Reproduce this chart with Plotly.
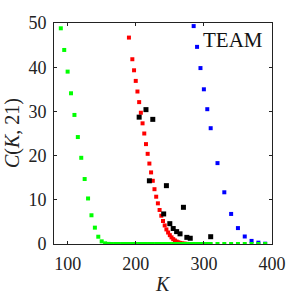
import plotly.graph_objects as go

# ---- data ----
green_k = [90, 95, 100, 105, 110, 115, 120, 125, 130, 135, 140, 145, 150, 155, 160,
           165, 170, 175, 180, 185, 190, 195, 200, 205, 210, 215, 220, 225, 230, 235,
           240, 245, 250, 255, 260, 265, 270, 275, 280, 285, 290, 295, 300, 305, 310,
           320, 330, 340, 350, 360, 370, 380, 390]
green_c = [48.8, 43.9, 39.0, 34.1, 29.2, 24.2, 19.5, 14.7, 10.3, 6.5, 3.7, 1.65, 0.6, 0.15, 0.03,
           0.0, 0.0, 0.0, 0.0, 0.0, 0.0, 0.0, 0.0, 0.0, 0.0, 0.0, 0.0, 0.0, 0.0, 0.0,
           0.0, 0.0, 0.0, 0.0, 0.0, 0.0, 0.0, 0.0, 0.0, 0.0, 0.0, 0.0, 0.0, 0.0, 0.0,
           0.0, 0.0, 0.0, 0.0, 0.0, 0.0, 0.0, 0.0]

red_k = [190, 195, 197.5, 200, 202.5, 205, 207.5, 210, 212.5, 215, 217.5, 220, 222.5, 225,
         227.5, 230, 232.5, 235, 237.5, 240, 242.5, 245, 247.5, 250, 252.5, 255, 257.5,
         260, 262.5, 265, 267.5, 270, 272.5, 275]
red_c = [46.7, 41.8, 39.3, 36.9, 34.5, 32.1, 29.7, 27.3, 25.0, 22.6, 20.4, 18.2, 16.2, 14.3,
         12.4, 10.7, 9.2, 7.7, 6.4, 5.2, 4.2, 3.3, 2.6, 2.0, 1.5, 1.1, 0.8,
         0.55, 0.38, 0.25, 0.15, 0.09, 0.05, 0.03]

blue_k = [285, 290, 295, 300, 305, 310, 320, 330, 340, 350, 360, 370, 380, 390]
blue_c = [49.3, 44.6, 39.8, 35.0, 30.5, 26.2, 18.3, 11.7, 6.8, 3.6, 1.7, 0.7, 0.3, 0.07]

black_k = [205, 215, 225, 220, 241, 245, 250, 255, 260, 265, 270, 275, 280, 310]
black_c = [28.7, 30.4, 28.2, 14.3, 6.8, 13.2, 4.6, 3.5, 2.8, 2.3, 8.3, 1.5, 1.3, 1.65]

x_ticks = [100, 200, 300, 400]
y_ticks = [0, 10, 20, 30, 40, 50]
label_text = "TEAM"
x_title = "<i>K</i>"
y_title = "<i>C</i>(<i>K</i>, 21)"

FONT = "Liberation Serif"
INK = "#222222"

fig = go.Figure()


def add(xs, ys, color, size):
    fig.add_trace(go.Scatter(x=xs, y=ys, mode="markers",
                             marker=dict(symbol="square", size=size, color=color,
                                         line=dict(width=0)),
                             hoverinfo="skip", showlegend=False))


add(red_k, red_c, "#ff0000", 4)
add(blue_k, blue_c, "#0000ff", 4)
add(black_k, black_c, "#000000", 5)
add(green_k, green_c, "#00ff00", 4)

axis_common = dict(showline=True, linecolor=INK, linewidth=1, mirror="ticks",
                   ticks="inside", ticklen=3, tickcolor=INK, showgrid=False,
                   zeroline=False, tickfont=dict(family=FONT, size=18, color=INK))

fig.update_xaxes(range=[80, 400], tickvals=x_ticks, ticklabelstandoff=3, **axis_common)
fig.update_yaxes(range=[0, 50], tickvals=y_ticks, ticklabelstandoff=3, **axis_common)

# axis titles placed as annotations (paper coords)
fig.add_annotation(text=x_title, xref="paper", yref="paper", x=0.5, y=-0.18,
                   xanchor="center", yanchor="middle", showarrow=False,
                   font=dict(family=FONT, size=20, color=INK))
fig.add_annotation(text=y_title, xref="paper", yref="paper", x=-0.19, y=0.5,
                   xanchor="center", yanchor="middle", showarrow=False, textangle=-90,
                   font=dict(family=FONT, size=20, color=INK))

fig.add_annotation(text=label_text, xref="paper", yref="paper", x=0.97, y=0.922,
                   xanchor="right", yanchor="middle", showarrow=False,
                   font=dict(family=FONT, size=21, color="#111111"))

fig.update_layout(width=300, height=300, margin=dict(l=54, r=28, t=23, b=56),
                  plot_bgcolor="white", paper_bgcolor="white", hovermode=False)

fig.write_html("out.html", config={"displayModeBar": False, "staticPlot": True},
               post_script="document.body.style.margin='0';document.body.style.padding='0';")
